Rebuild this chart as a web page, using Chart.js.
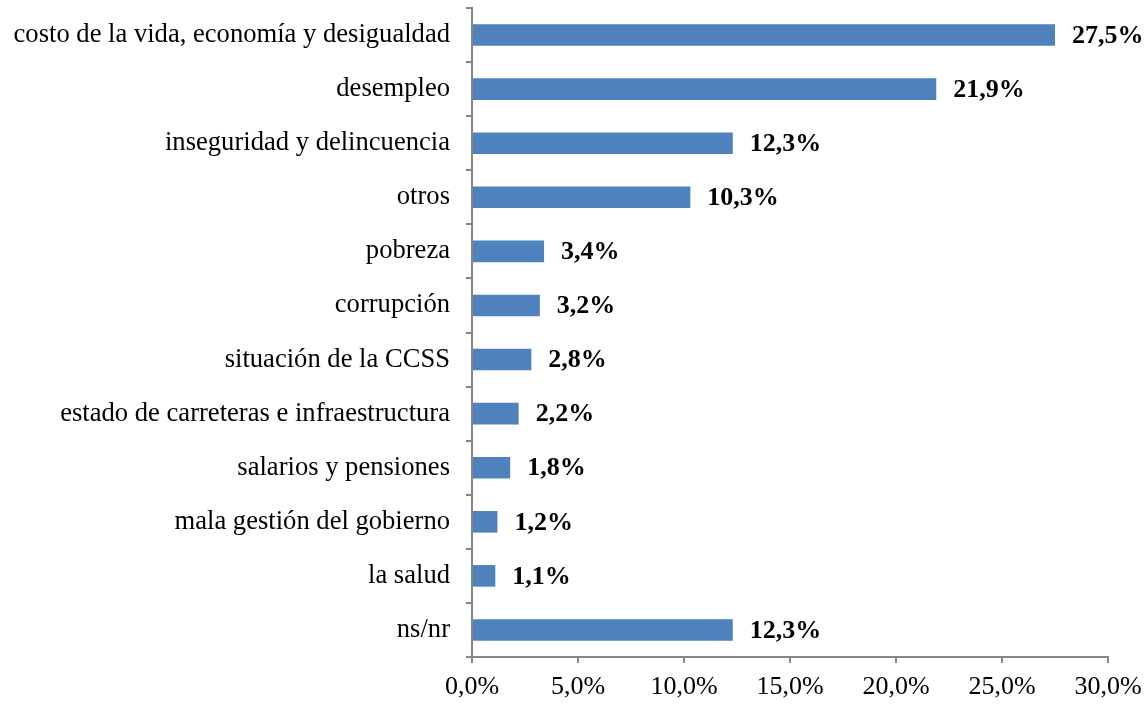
<!DOCTYPE html>
<html>
<head>
<meta charset="utf-8">
<script src="https://cdn.jsdelivr.net/npm/chart.js@4"></script>
<style>
  html, body { margin: 0; padding: 0; background: #fff; }
  #wrap { width: 1147px; height: 704px; }
</style>
</head>
<body>
<div id="wrap"><canvas id="chart"></canvas></div>
<script>
// Chart data
const categories = [
    'costo de la vida, economía y desigualdad',
    'desempleo',
    'inseguridad y delincuencia',
    'otros',
    'pobreza',
    'corrupción',
    'situación de la CCSS',
    'estado de carreteras e infraestructura',
    'salarios y pensiones',
    'mala gestión del gobierno',
    'la salud',
    'ns/nr'
];
const values = [27.5, 21.9, 12.3, 10.3, 3.4, 3.2, 2.8, 2.2, 1.8, 1.2, 1.1, 12.3];
const xTicks = [0, 5, 10, 15, 20, 25, 30];

const fmt = v => v.toFixed(1).replace('.', ',') + '%';
const FONT = "'Liberation Serif', 'Times New Roman', serif";
const AXIS = '#868686';

// Draw bold value labels to the right of each bar
const valueLabels = {
    id: 'valueLabels',
    afterDatasetsDraw(chart) {
        const ctx = chart.ctx;
        const meta = chart.getDatasetMeta(0);
        ctx.save();
        ctx.font = 'bold 26px ' + FONT;
        ctx.fillStyle = '#000';
        ctx.textAlign = 'left';
        ctx.textBaseline = 'middle';
        meta.data.forEach((bar, i) => {
            ctx.fillText(fmt(values[i]), bar.x + 17, bar.y + 1);
        });
        ctx.restore();
    }
};

const ctx = document.getElementById('chart').getContext('2d');
new Chart(ctx, {
    type: 'bar',
    data: {
        labels: categories,
        datasets: [{
            data: values,
            backgroundColor: '#4F81BD',
            borderWidth: 0,
            barPercentage: 0.4,
            categoryPercentage: 1
        }]
    },
    options: {
        indexAxis: 'y',
        responsive: true,
        maintainAspectRatio: false,
        animation: false,
        layout: { padding: { top: 8, right: 39, bottom: 0, left: 0 } },
        plugins: {
            legend: { display: false },
            tooltip: { enabled: false }
        },
        scales: {
            x: {
                min: 0,
                max: 30,
                afterBuildTicks: s => { s.ticks = xTicks.map(v => ({ value: v })); },
                afterFit: s => { s.height = 47; s.paddingLeft = 0; s.paddingRight = 0; },
                grid: {
                    drawOnChartArea: false,
                    drawTicks: true,
                    tickLength: 6,
                    color: AXIS,
                    lineWidth: 2
                },
                border: { color: AXIS, width: 2 },
                ticks: {
                    font: { family: FONT, size: 26 },
                    color: '#000',
                    padding: 9,
                    maxRotation: 0,
                    callback: v => fmt(v)
                }
            },
            y: {
                afterFit: s => { s.width = 472; s.paddingTop = 0; s.paddingBottom = 0; },
                grid: {
                    drawOnChartArea: false,
                    drawTicks: true,
                    tickLength: 6,
                    color: AXIS,
                    lineWidth: 2,
                    offset: true
                },
                border: { color: AXIS, width: 2 },
                ticks: {
                    font: { family: FONT, size: 26.6 },
                    color: '#000',
                    padding: 16,
                    autoSkip: false
                }
            }
        }
    },
    plugins: [valueLabels]
});
</script>
</body>
</html>
